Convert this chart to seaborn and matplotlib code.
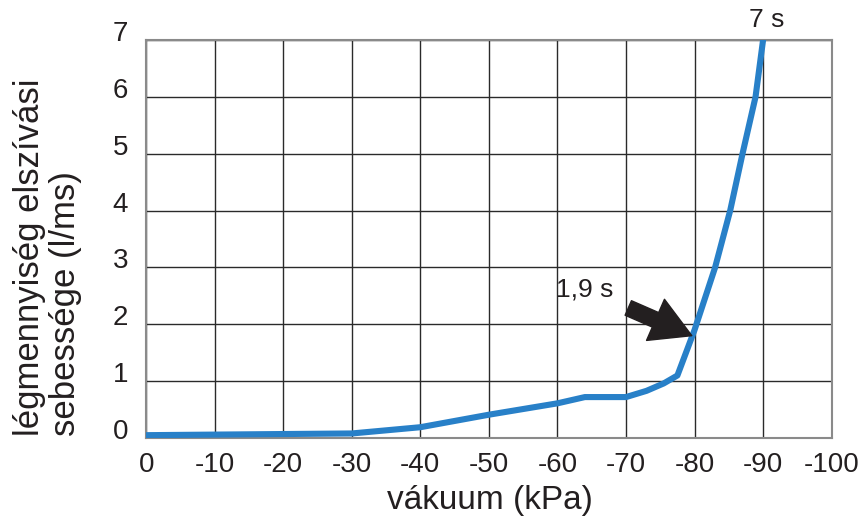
import numpy as np
import pandas as pd
import matplotlib
matplotlib.use('Agg')
import matplotlib.pyplot as plt
from matplotlib.transforms import ScaledTranslation
import seaborn as sns

# values
vakuum = [0, -10, -20, -30, -40, -50, -60, -64, -70, -73, -75.5, -77.5,
          -80, -83, -85.2, -87, -88.9, -90]
sebesseg = [0.05, 0.06, 0.07, 0.08, 0.19, 0.41, 0.61, 0.72, 0.72, 0.83, 0.96, 1.1,
            1.9, 3.0, 4.0, 5.0, 6.0, 7.0]
x_ticks = [0, -10, -20, -30, -40, -50, -60, -70, -80, -90, -100]
x_ticklabels = ['0', '-10', '-20', '-30', '-40', '-50', '-60', '-70', '-80', '-90', '-100']
y_ticks = [0, 1, 2, 3, 4, 5, 6, 7]

df = pd.DataFrame({'vakuum': vakuum, 'sebesseg': sebesseg})

sns.set_theme(style='white')
plt.rcParams['font.family'] = ['Liberation Sans', 'DejaVu Sans']

fig = plt.figure(figsize=(8.6, 5.23), dpi=100)
ax = fig.add_axes([0.170, 0.1625, 0.797, 0.761])

sns.lineplot(data=df, x='vakuum', y='sebesseg', ax=ax, color='#2880c8',
             linewidth=4.4, sort=False, zorder=3)

ax.set_xlim(0, -100)
ax.set_ylim(0, 7)
ax.set_xticks(x_ticks)
ax.set_xticklabels(x_ticklabels)
ax.set_yticks(y_ticks)
ax.grid(True, color='#2a2a2a', linewidth=1)
for s in ax.spines.values():
    s.set_color('#8a8a8a')
    s.set_linewidth(1.5)
ax.tick_params(axis='both', length=0, labelsize=20, colors='#231f20')
ax.tick_params(axis='x', pad=10)
ax.tick_params(axis='y', pad=13)
for lab in ax.get_yticklabels():
    lab.set_transform(lab.get_transform() + ScaledTranslation(0, 0.09, fig.dpi_scale_trans))

ax.set_xlabel('vákuum (kPa)', fontsize=24, color='#231f20')
ax.xaxis.set_label_coords(0.501, -0.118)
ax.set_ylabel('légmennyiség elszívási\nsebessége (l/ms)', fontsize=25,
              color='#231f20', linespacing=1.1, ha='left', multialignment='left')
ax.yaxis.set_label_coords(-0.094, 0.004)

ax.annotate('1,9 s', xy=(-79.6, 1.8), xytext=(-64, 2.62), fontsize=19,
            color='#231f20', ha='center', va='center',
            arrowprops=dict(arrowstyle='simple,head_width=1.7,head_length=1.5,tail_width=0.6',
                            color='#231f20', shrinkA=9, shrinkB=0))
ax.text(-90.5, 7.36, '7 s', fontsize=19, color='#231f20', ha='center',
        va='center', clip_on=False)

fig.savefig('out.png', dpi=100)
